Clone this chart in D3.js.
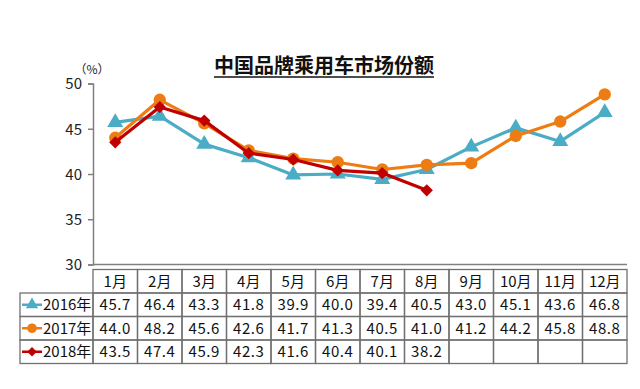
<!DOCTYPE html>
<html>
<head>
<meta charset="utf-8">
<script src="https://cdn.jsdelivr.net/npm/d3@7"></script>
<style>
  body { margin: 0; background: #fff; }
  text { font-family: "Noto Sans CJK SC", "Liberation Sans", sans-serif; }
</style>
</head>
<body>
<svg width="640" height="389"></svg>
<script>
var months = ["1月","2月","3月","4月","5月","6月","7月","8月","9月","10月","11月","12月"];
var years = ["2016年","2017年","2018年"];
var share2016 = [45.7,46.4,43.3,41.8,39.9,40.0,39.4,40.5,43.0,45.1,43.6,46.8];
var share2017 = [44.0,48.2,45.6,42.6,41.7,41.3,40.5,41.0,41.2,44.2,45.8,48.8];
var share2018 = [43.5,47.4,45.9,42.3,41.6,40.4,40.1,38.2];
var yTicks = [30,35,40,45,50];

var colors = ["#4bacc6", "#ed7d12", "#c00000"];
var symbols = [d3.symbolTriangle, d3.symbolCircle, d3.symbolSquare];
var sizes = [110, 120, 75];
var rotate = [0, 0, 45];
var seriesData = [share2016, share2017, share2018];

var svg = d3.select("svg");

var x = d3.scaleBand().domain(months).range([93, 627]);
var y = d3.scaleLinear().domain([30, 50]).range([264.5, 83.5]);

// title
var title = svg.append("text")
    .attr("x", 324)
    .attr("y", 73)
    .attr("text-anchor", "middle")
    .attr("font-size", 20)
    .attr("font-weight", "bold")
    .attr("fill", "#111")
    .text("中国品牌乘用车市场份额");
var tb = title.node().getBBox();
svg.append("line")
    .attr("x1", tb.x).attr("x2", tb.x + tb.width)
    .attr("y1", 77).attr("y2", 77)
    .attr("stroke", "#111").attr("stroke-width", 1.5);

svg.append("text")
    .attr("x", 92)
    .attr("y", 74)
    .attr("text-anchor", "middle")
    .attr("font-size", 12)
    .attr("fill", "#222")
    .text("（%）");

// y axis
var yAxis = svg.append("g")
    .attr("transform", "translate(93,0)")
    .call(d3.axisLeft(y).tickValues(yTicks).tickSize(5).tickPadding(6));
yAxis.select(".domain").attr("stroke", "#808080").attr("stroke-width", 1.5);
yAxis.selectAll(".tick line").attr("stroke", "#808080").attr("stroke-width", 1.5);
yAxis.selectAll(".tick text")
    .attr("font-family", "Liberation Sans, Arial, sans-serif")
    .attr("font-size", 15)
    .attr("dy", "0.36em")
    .attr("fill", "#222");

// x axis line
svg.append("line")
    .attr("x1", 93).attr("x2", 627)
    .attr("y1", y(30)).attr("y2", y(30))
    .attr("stroke", "#808080").attr("stroke-width", 1.5);

// lines
var cx = function(i) { return x(months[i]) + x.bandwidth() / 2; };
var line = d3.line()
    .x(function(d, i) { return cx(i); })
    .y(function(d) { return y(d); });

seriesData.forEach(function(vals, k) {
  var g = svg.append("g");
  g.append("path")
      .datum(vals)
      .attr("fill", "none")
      .attr("stroke", colors[k])
      .attr("stroke-width", 3.2)
      .attr("stroke-linejoin", "round")
      .attr("d", line);
  g.selectAll("path.pt")
      .data(vals)
      .enter().append("path")
      .attr("class", "pt")
      .attr("fill", colors[k])
      .attr("d", d3.symbol().type(symbols[k]).size(sizes[k]))
      .attr("transform", function(d, i) {
        return "translate(" + cx(i) + "," + y(d) + ") rotate(" + rotate[k] + ")";
      });
});

// table
var rowTop = 269.5, rowH = 23.5, legLeft = 20;
var tbl = svg.append("g");
var border = "#707070";

months.forEach(function(m) {
  tbl.append("rect")
      .attr("x", x(m)).attr("y", rowTop)
      .attr("width", x.bandwidth()).attr("height", rowH)
      .attr("fill", "none").attr("stroke", border).attr("stroke-width", 1.3);
  tbl.append("text")
      .attr("x", x(m) + x.bandwidth() / 2)
      .attr("y", rowTop + rowH / 2 + 5.5)
      .attr("text-anchor", "middle")
      .attr("font-size", 15)
      .attr("fill", "#111")
      .text(m);
});

seriesData.forEach(function(vals, k) {
  var ry = rowTop + rowH * (k + 1);
  tbl.append("rect")
      .attr("x", legLeft).attr("y", ry)
      .attr("width", 93 - legLeft).attr("height", rowH)
      .attr("fill", "none").attr("stroke", border).attr("stroke-width", 1.3);
  var cy = ry + rowH / 2;
  tbl.append("line")
      .attr("x1", legLeft + 2).attr("x2", legLeft + 22)
      .attr("y1", cy).attr("y2", cy)
      .attr("stroke", colors[k]).attr("stroke-width", 2.5);
  tbl.append("path")
      .attr("fill", colors[k])
      .attr("d", d3.symbol().type(symbols[k]).size(sizes[k] * 0.6))
      .attr("transform", "translate(" + (legLeft + 12) + "," + cy + ") rotate(" + rotate[k] + ")");
  tbl.append("text")
      .attr("x", legLeft + 23)
      .attr("y", cy + 5.5)
      .attr("font-size", 15)
      .attr("fill", "#111")
      .text(years[k]);
  months.forEach(function(m, i) {
    tbl.append("rect")
        .attr("x", x(m)).attr("y", ry)
        .attr("width", x.bandwidth()).attr("height", rowH)
        .attr("fill", "none").attr("stroke", border).attr("stroke-width", 1.3);
    if (i < vals.length) {
      tbl.append("text")
          .attr("x", x(m) + x.bandwidth() / 2)
          .attr("y", cy + 5.5)
          .attr("text-anchor", "middle")
          .attr("font-size", 15)
          .attr("letter-spacing", 0.6)
          .attr("fill", "#111")
          .text(vals[i].toFixed(1));
    }
  });
});
</script>
</body>
</html>
